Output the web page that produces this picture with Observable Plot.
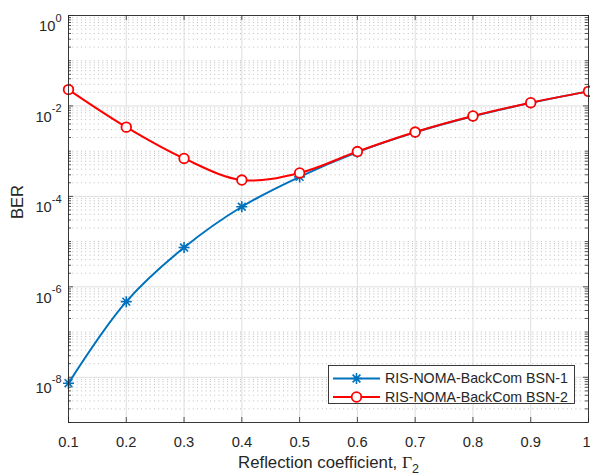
<!DOCTYPE html>
<html>
<head>
<meta charset="utf-8">
<script src="https://cdn.jsdelivr.net/npm/d3@7"></script>
<script src="https://cdn.jsdelivr.net/npm/@observablehq/plot@0.6"></script>
<style>
  html, body { margin: 0; padding: 0; background: #fff; }
  #chart { position: relative; width: 590px; height: 476px; }
  #chart svg g[aria-label="x-axis tick label"] text,
  #chart svg g[aria-label="y-axis tick label"] text { font-size: 14.7px; }
</style>
</head>
<body>
<div id="chart"></div>
<script>
// ---- data ----
const reflection = [0.1, 0.2, 0.3, 0.4, 0.5, 0.6, 0.7, 0.8, 0.9, 1.0];
const berBSN1 = [7.4e-9, 4.7e-7, 7.4e-6, 5.9e-5, 2.7e-4, 9.5e-4, 2.6e-3, 5.9e-3, 1.17e-2, 2.1e-2];
const berBSN2 = [2.3e-2, 3.4e-3, 6.9e-4, 2.3e-4, 3.3e-4, 9.8e-4, 2.65e-3, 6.0e-3, 1.18e-2, 2.1e-2];
const seriesNames = ["RIS-NOMA-BackCom BSN-1", "RIS-NOMA-BackCom BSN-2"];
const xTickValues = [0.1, 0.2, 0.3, 0.4, 0.5, 0.6, 0.7, 0.8, 0.9, 1.0];
const xTickLabels = ["0.1", "0.2", "0.3", "0.4", "0.5", "0.6", "0.7", "0.8", "0.9", "1"];
const yMajorExps = [-8, -6, -4, -2, 0];
const yDecadeExps = [-9, -8, -7, -6, -5, -4, -3, -2, -1, 0];
const yLabel = "BER";
const xLabelText = "Reflection coefficient, ";
const xLabelSymbol = "\u0393";
const xLabelSub = "2";

// ---- derived ----
const rows1 = reflection.map((x, i) => ({x, y: berBSN1[i]}));
const rows2 = reflection.map((x, i) => ({x, y: berBSN2[i]}));
const yMajor = yMajorExps.map(e => Math.pow(10, e));
const yMinor = [];
for (const e of yDecadeExps) {
  if (e === 0) continue;
  for (let m = 1; m <= 9; m++) {
    if (m === 1 && yMajorExps.includes(e)) continue;
    yMinor.push(m * Math.pow(10, e));
  }
}

const W = 590, H = 476, mL = 68, mR = 2, mT = 15, mB = 54;
const FW = W - mL - mR, FH = H - mT - mB;
const BLUE = "#0072BD", RED = "#FF0000", AX = "#262626";
const FONT = "'Liberation Sans', Arial, Helvetica, sans-serif";

const asterisk = {
  draw(ctx, size) {
    const r = Math.sqrt(size / Math.PI), d = r * Math.SQRT1_2;
    ctx.moveTo(-r, 0); ctx.lineTo(r, 0);
    ctx.moveTo(0, -r); ctx.lineTo(0, r);
    ctx.moveTo(-d, -d); ctx.lineTo(d, d);
    ctx.moveTo(-d, d); ctx.lineTo(d, -d);
  }
};

const plot = Plot.plot({
  width: W, height: H,
  marginLeft: mL, marginRight: mR, marginTop: mT, marginBottom: mB,
  style: {fontFamily: FONT, fontSize: "14.7px", color: AX, background: "#fff", overflow: "visible"},
  x: {domain: [0.1, 1.0]},
  y: {type: "log", domain: [1e-9, 1]},
  marks: [
    // grid
    Plot.ruleY(yMinor, {stroke: "#bdbdbd", strokeWidth: 1, strokeDasharray: "1,3.3"}),
    Plot.ruleY(yMajor, {stroke: "#dedede", strokeWidth: 1}),
    Plot.ruleX(xTickValues, {stroke: "#dedede", strokeWidth: 1}),
    // inward ticks
    Plot.ruleY(yMinor, {stroke: AX, strokeWidth: 0.8, insetRight: FW - 3}),
    Plot.ruleY(yMinor, {stroke: AX, strokeWidth: 0.8, insetLeft: FW - 3}),
    Plot.ruleY(yMajor, {stroke: AX, strokeWidth: 0.8, insetRight: FW - 5}),
    Plot.ruleY(yMajor, {stroke: AX, strokeWidth: 0.8, insetLeft: FW - 5}),
    Plot.ruleX(xTickValues, {stroke: AX, strokeWidth: 0.8, insetTop: FH - 5}),
    Plot.ruleX(xTickValues, {stroke: AX, strokeWidth: 0.8, insetBottom: FH - 5}),
    // series
    Plot.line(rows1, {x: "x", y: "y", stroke: BLUE, strokeWidth: 2, curve: "catmull-rom"}),
    Plot.dot(rows1, {x: "x", y: "y", symbol: asterisk, r: 5.5, stroke: BLUE, strokeWidth: 1.6, fill: "none"}),
    Plot.line(rows2, {x: "x", y: "y", stroke: RED, strokeWidth: 2, curve: "catmull-rom"}),
    Plot.dot(rows2, {x: "x", y: "y", symbol: "circle", r: 4.8, stroke: RED, strokeWidth: 1.8, fill: "#fff"}),
    Plot.frame({stroke: AX, strokeWidth: 0.9}),
    // axes
    Plot.axisX(xTickValues, {tickSize: 0, tickPadding: 14, tickFormat: (d, i) => xTickLabels[i], label: null, fill: AX, fontSize: 14.7}),
    Plot.axisY(yMajor, {tickSize: 0, tickPadding: 7, tickFormat: d => "10|" + Math.round(Math.log10(d)), label: null, fill: AX, fontSize: 14.7}),
    Plot.text([yLabel], {frameAnchor: "left", dx: -51, rotate: -90, fontSize: 16.5, fill: AX}),
    Plot.text([xLabelText], {frameAnchor: "bottom", dy: 45, fontSize: 16.8, fill: AX, className: "xlab"})
  ]
});

// superscript y tick labels
plot.querySelectorAll('g[aria-label="y-axis tick label"] text').forEach(t => {
  const [base, exp] = t.textContent.split("|");
  t.textContent = "";
  t.setAttribute("dy", "11");
  const s = d3.select(t);
  s.append("tspan").text(base);
  s.append("tspan").attr("dy", -9.5).attr("font-size", 11).text(exp);
});

// keep the last x tick label inside the picture
const xt = plot.querySelectorAll('g[aria-label="x-axis tick label"] text');
if (xt.length) xt[xt.length - 1].setAttribute("dx", "-2");

// x label with Greek symbol and subscript
const xl = plot.querySelector(".xlab text");
if (xl) {
  const txt = xl.textContent;
  xl.textContent = "";
  const s = d3.select(xl);
  s.append("tspan").text(txt);
  s.append("tspan").attr("font-family", "'Liberation Serif', 'Times New Roman', serif").attr("font-size", 17.5).text(xLabelSymbol);
  s.append("tspan").attr("dy", 5).attr("font-size", 12.5).text(xLabelSub);
}

// legend
const svg = d3.select(plot);
const lg = svg.append("g").attr("class", "legend").attr("font-family", FONT);
const LX = 328, LY = 365, LW = 246, LH = 38;
lg.append("rect").attr("x", LX + 0.5).attr("y", LY + 0.5).attr("width", LW).attr("height", LH)
  .attr("fill", "#fff").attr("stroke", AX).attr("stroke-width", 0.9);
const legendItems = [
  {name: seriesNames[0], color: BLUE, sym: "ast"},
  {name: seriesNames[1], color: RED, sym: "circ"}
];
legendItems.forEach((it, i) => {
  const cy = LY + 13.5 + i * 18.5;
  lg.append("line").attr("x1", LX + 5).attr("x2", LX + 52).attr("y1", cy).attr("y2", cy)
    .attr("stroke", it.color).attr("stroke-width", 2);
  const cx = LX + 28.5;
  if (it.sym === "ast") {
    lg.append("path").attr("transform", `translate(${cx},${cy})`)
      .attr("d", d3.symbol(asterisk, Math.PI * 5.5 * 5.5)())
      .attr("stroke", it.color).attr("stroke-width", 1.6).attr("fill", "none");
  } else {
    lg.append("circle").attr("cx", cx).attr("cy", cy).attr("r", 4.8)
      .attr("stroke", it.color).attr("stroke-width", 1.8).attr("fill", "#fff");
  }
  lg.append("text").attr("x", LX + 57).attr("y", cy).attr("dy", "0.35em")
    .attr("text-anchor", "start").attr("font-size", 14.2).attr("fill", AX).text(it.name);
});

document.getElementById("chart").appendChild(plot);
</script>
</body>
</html>
